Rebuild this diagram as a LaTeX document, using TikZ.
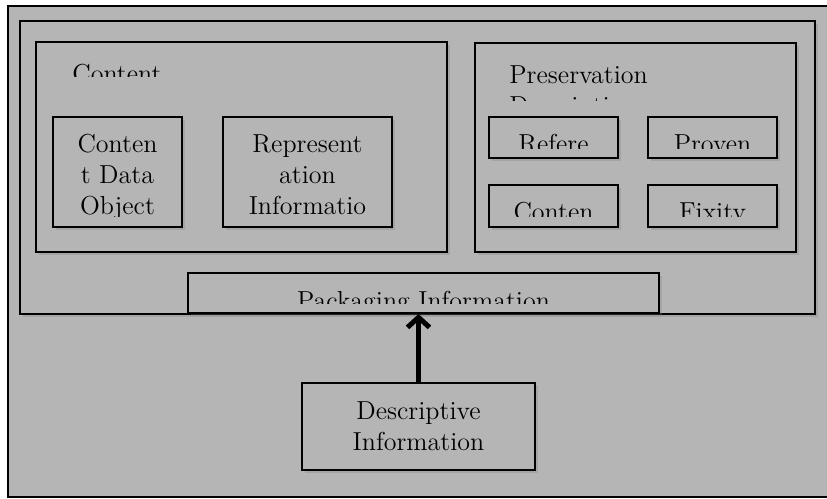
\documentclass[tikz,border=0pt]{standalone}
\usepackage{fontspec}
\usepackage{xcolor}
\usepackage{tikz}
\usetikzlibrary{arrows.meta,positioning,shadows}
\definecolor{oaisgray}{HTML}{B5B5B5}

\begin{document}
\begin{tikzpicture}[x=0.5pt,y=-0.5pt,
    bloc/.style   = {draw,line width=1pt,fill=oaisgray,inner sep=0pt,
                     drop shadow={opacity=0.3,shadow xshift=1.5pt,shadow yshift=-1.5pt}},
    texte/.style  = {font=\fontsize{13}{15.5}\selectfont,align=center,inner sep=0pt},
    fleche/.style = {line width=2.5pt,-{Straight Barb[length=5pt,width=11pt]}},
  ]
  \useasboundingbox (0,0) rectangle (827,499);

  % Cadre général
  \draw[line width=1pt,fill=oaisgray] (8,6) rectangle (840,497);

  % Paquet d'information
  \node[bloc,minimum width=397.5pt,minimum height=146.5pt] (aip) at (417.5,167.5) {};

  % Contenu
  \node[bloc,minimum width=205.5pt,minimum height=105pt] (contenu) at (241.5,147) {};
  \node[bloc,minimum width=64.5pt,minimum height=55pt] (cdo) at (117.5,172) {};
  \node[bloc,minimum width=84.5pt,minimum height=55pt] (repinfo) at (307.5,172) {};
  \begin{scope}
    \clip (36,42) rectangle (447,76);
    \node[texte,anchor=base west] (titrecontenu) at (72,82) {Content};
  \end{scope}
  \begin{scope}
    \clip (53,117) rectangle (392,216);
    \node[texte,anchor=north] (txtcdo) at (117.5,134) {Conten\\t Data\\Object};
    \node[texte,anchor=north] (txtrep) at (307.5,134) {Represent\\ation\\Informatio};
  \end{scope}

  % Description de pérennisation
  \node[bloc,minimum width=160.5pt,minimum height=104.5pt] (pdi) at (635.5,147.5) {};
  \foreach \nom/\px/\py/\haut in {ref/553.5/137.5/20.5, prov/712.5/137.5/20.5,
                                  ctx/553.5/206/21, fix/712.5/206/21}
    \node[bloc,minimum width=64.5pt,minimum height=\haut pt] (\nom) at (\px,\py) {};
  \begin{scope}
    \clip (475,43) rectangle (796,100);
    \node[texte,align=left,anchor=north west] (titrepdi) at (509,65) {Preservation\\Description};
  \end{scope}
  \begin{scope}
    \clip (489,117) rectangle (777,148);
    \node[texte,anchor=base] (txtref) at (ref.center |- 0,152) {Refere};
    \node[texte,anchor=base] (txtprov) at (prov.center |- 0,152) {Proven};
  \end{scope}
  \begin{scope}
    \clip (489,185) rectangle (777,216);
    \node[texte,anchor=base] (txtctx) at (ctx.center |- 0,220) {Conten};
    \node[texte,anchor=base] (txtfix) at (fix.center |- 0,220) {Fixity};
  \end{scope}

  % Emballage
  \node[bloc,minimum width=235.5pt,minimum height=20pt] (pkg) at (423.5,293) {};
  \begin{scope}
    \clip (188,273) rectangle (659,303);
    \node[texte,anchor=base] (txtpkg) at (pkg.center |- 0,309) {Packaging Information};
  \end{scope}

  % Information descriptive
  \node[bloc,texte,minimum width=116.5pt,minimum height=43.5pt] (desc) at (418.5,426.5)
    {Descriptive\\Information};

  \draw[fleche] (desc.north) -- (desc.north |- pkg.south);

\end{tikzpicture}
\end{document}
